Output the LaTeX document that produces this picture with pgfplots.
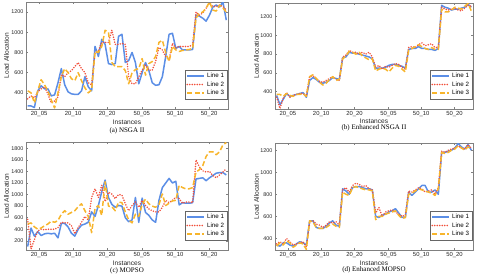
\documentclass[border=0pt]{standalone}
\usepackage{fontspec}
\setmainfont{Liberation Sans}
\newfontfamily\capfont{Liberation Serif}
\usepackage{pgfplots}
\pgfplotsset{compat=1.18}
\usepackage{pgfplotstable}

\definecolor{lone}{HTML}{5B8EE6}
\definecolor{ltwo}{HTML}{F2503C}
\definecolor{lthree}{HTML}{F7B52C}

\pgfplotstableread{
l1 l2 l3
270 340 420
270 370 400
255 350 300
420 410 420
470 440 530
440 460 480
440 390 420
370 300 330
380 320 250
500 360 400
640 580 560
480 560 640
410 600 600
390 620 540
385 660 520
385 700 600
420 640 520
560 600 450
460 500 400
420 480 430
860 800 810
760 820 800
930 900 860
880 900 1020
690 900 1000
680 1020 700
690 880 660
960 880 660
980 890 660
700 880 620
720 560 490
800 490 600
700 490 630
490 560 640
600 625 740
700 675 575
620 625 690
500 625 710
475 710 760
480 850 900
560 825 920
760 760 800
980 725 710
990 890 860
840 845 825
860 860 810
825 860 820
825 860 825
825 860 830
830 875 840
1170 1200 1140
1160 1170 1190
1140 1190 1200
1110 1240 1240
1170 1290 1300
1250 1255 1220
1270 1255 1210
1250 1270 1270
1300 1255 1240
1120 1220 1200
}\tabA

\pgfplotstableread{
l1 l2 l3
360 340 370
260 220 370
320 330 350
380 390 380
350 340 360
360 360 350
370 370 370
380 380 370
390 380 380
340 350 350
520 560 560
550 570 580
530 540 540
500 510 500
490 500 470
500 520 490
520 540 530
550 560 560
540 530 520
530 520 530
760 770 750
770 790 780
820 840 830
810 820 820
810 820 800
800 800 820
790 820 780
780 800 760
770 820 740
750 770 750
650 660 620
650 680 640
650 640 650
660 670 640
680 660 610
690 680 650
690 700 680
680 690 670
670 660 640
650 640 610
850 870 840
860 880 860
860 870 880
880 900 900
860 920 880
860 890 860
850 900 850
850 910 870
840 870 850
860 870 850
1320 1300 1280
1300 1280 1250
1290 1270 1250
1270 1280 1270
1280 1290 1300
1280 1270 1290
1290 1260 1280
1300 1290 1310
1330 1320 1340
1300 1310 1260
}\tabB

\pgfplotstableread{
l1 l2 l3
100 570 490
420 60 510
280 220 440
360 370 400
290 400 420
320 390 460
330 400 490
320 400 540
330 400 520
250 430 550
500 520 660
500 510 720
440 510 660
330 460 690
280 320 720
400 430 790
470 520 840
490 620 720
520 560 620
700 950 340
620 1100 760
810 950 810
1050 1160 640
1250 880 1220
950 1040 800
830 1010 790
780 930 720
810 1000 870
800 990 860
600 840 700
530 720 560
560 810 510
950 870 660
520 780 620
940 900 830
690 810 920
640 750 840
560 720 800
520 700 780
900 700 830
1120 780 1010
1200 900 810
1280 860 850
1200 900 890
1230 950 900
820 930 1160
860 850 1120
850 870 1100
850 870 1100
860 860 1120
1270 1600 1390
1280 1480 1430
1290 1410 1500
1240 1390 1660
1290 1400 1740
1330 1330 1740
1370 1290 1690
1380 1340 1740
1380 1390 1860
1340 1450 1900
}\tabC

\pgfplotstableread{
l1 l2 l3
340 350 330
330 370 360
360 350 340
360 400 380
340 370 360
330 340 320
350 350 340
370 360 360
360 370 350
340 320 300
560 550 560
560 560 550
500 530 500
490 520 490
490 500 490
510 520 500
540 550 520
560 540 530
520 550 510
510 520 500
850 840 820
830 860 800
800 820 790
860 880 860
870 900 870
870 890 860
860 870 850
850 880 840
850 850 840
840 840 830
600 630 570
590 680 600
610 600 600
620 640 620
640 650 630
650 660 640
670 640 650
630 620 610
590 600 580
590 610 590
820 830 800
790 820 810
820 840 830
850 860 850
880 850 840
880 820 830
820 830 820
820 840 810
840 800 790
800 860 850
1180 1190 1180
1180 1180 1170
1190 1200 1180
1200 1210 1200
1220 1220 1210
1260 1240 1240
1230 1220 1220
1210 1210 1200
1250 1250 1230
1200 1220 1210
}\tabD

\pgfplotsset{
  myax/.style={
    scale only axis,
    xmin=-0.5, xmax=59.5,
    xtick={3.4,13.5,23.6,33.9,43.8,53.9},
    xticklabels={20\_05,20\_10,20\_20,50\_05,50\_10,50\_20},
    axis line style={draw=black!50},
    tick style={draw=black!50, line width=0.4pt},
    major tick length=2pt,
    tick align=inside,
    xticklabel style={font=\fontsize{5.9}{7}\selectfont, text=black!85, yshift=1pt},
    yticklabel style={font=\fontsize{5.4}{7}\selectfont, text=black!85, xshift=1pt},
    /pgf/number format/assume math mode=true,
    /pgf/number format/1000 sep={},
    legend style={at={(1,0)}, anchor=south east, xshift=-1pt, yshift=10pt,
      draw=black!60, font=\fontsize{6.2}{7}\selectfont, inner sep=0.8pt,
      row sep=-1.5pt, cells={anchor=west}},
    legend image code/.code={\draw[##1] (0pt,0pt) -- (17pt,0pt);},
    every axis plot/.append style={line join=round},
  },
  s1/.style={color=lone, line width=1.5pt},
  s2/.style={color=ltwo, line width=1.7pt, line cap=round, dash pattern=on 0pt off 2.5pt},
  s3/.style={color=lthree, line width=1.5pt, dash pattern=on 5pt off 2.5pt},
}
\tikzset{
  lab/.style={font=\fontsize{6.6}{7}\selectfont, text=black!85, inner sep=0pt},
  figcap/.style={font=\capfont\fontsize{7}{8}\selectfont, inner sep=0pt},
}

\begin{document}
\begin{tikzpicture}
\useasboundingbox (0pt,0pt) rectangle (480pt,-278pt);

% (a)
\begin{axis}[myax, name=a, at={(26pt,-109pt)}, anchor=south west, width=202pt, height=107pt,
  ymin=240, ymax=1300, ytick={400,600,...,1200}]
\addplot[s1] table[x expr=\coordindex, y=l1] {\tabA};
\addplot[s2] table[x expr=\coordindex, y=l2] {\tabA};
\addplot[s3] table[x expr=\coordindex, y=l3] {\tabA};
\legend{Line 1, Line 2, Line 3}
\end{axis}
\path (a.south) ++(0pt,-13pt) node[lab] {Instances};
\path (a.south) ++(0pt,-22pt) node[figcap] {(a) NSGA II};
\path (a.west) ++(-19.5pt,0pt) node[lab, rotate=90] {Load Allocation};

% (b)
\begin{axis}[myax, name=b, at={(275pt,-109pt)}, anchor=south west, width=198pt, height=106pt,
  ymin=215, ymax=1345, ytick={400,600,...,1200}]
\addplot[s1] table[x expr=\coordindex, y=l1] {\tabB};
\addplot[s2] table[x expr=\coordindex, y=l2] {\tabB};
\addplot[s3] table[x expr=\coordindex, y=l3] {\tabB};
\legend{Line 1, Line 2, Line 3}
\end{axis}
\path (b.south) ++(0pt,-12pt) node[lab] {Instances};
\path (b.south) ++(0pt,-19pt) node[figcap] {(b) Enhanced NSGA II};
\path (b.west) ++(-18.5pt,0pt) node[lab, rotate=90] {Load Allocation};

% (c)
\begin{axis}[myax, name=c, at={(26pt,-250pt)}, anchor=south west, width=202pt, height=108pt,
  ymin=40, ymax=1910, ytick={200,400,...,1800}]
\addplot[s1] table[x expr=\coordindex, y=l1] {\tabC};
\addplot[s2] table[x expr=\coordindex, y=l2] {\tabC};
\addplot[s3] table[x expr=\coordindex, y=l3] {\tabC};
\legend{Line 1, Line 2, Line 3}
\end{axis}
\path (c.south) ++(0pt,-13pt) node[lab] {Instances};
\path (c.south) ++(0pt,-21pt) node[figcap] {(c) MOPSO};
\path (c.west) ++(-19.5pt,0pt) node[lab, rotate=90] {Load Allocation};

% (d)
\begin{axis}[myax, name=d, at={(275pt,-250pt)}, anchor=south west, width=198pt, height=107pt,
  ymin=295, ymax=1265, ytick={400,600,...,1200}]
\addplot[s1] table[x expr=\coordindex, y=l1] {\tabD};
\addplot[s2] table[x expr=\coordindex, y=l2] {\tabD};
\addplot[s3] table[x expr=\coordindex, y=l3] {\tabD};
\legend{Line 1, Line 2, Line 3}
\end{axis}
\path (d.south) ++(0pt,-13pt) node[lab] {Instances};
\path (d.south) ++(0pt,-20pt) node[figcap] {(d) Enhanced MOPSO};
\path (d.west) ++(-18.5pt,0pt) node[lab, rotate=90] {Load Allocation};
\end{tikzpicture}
\end{document}
